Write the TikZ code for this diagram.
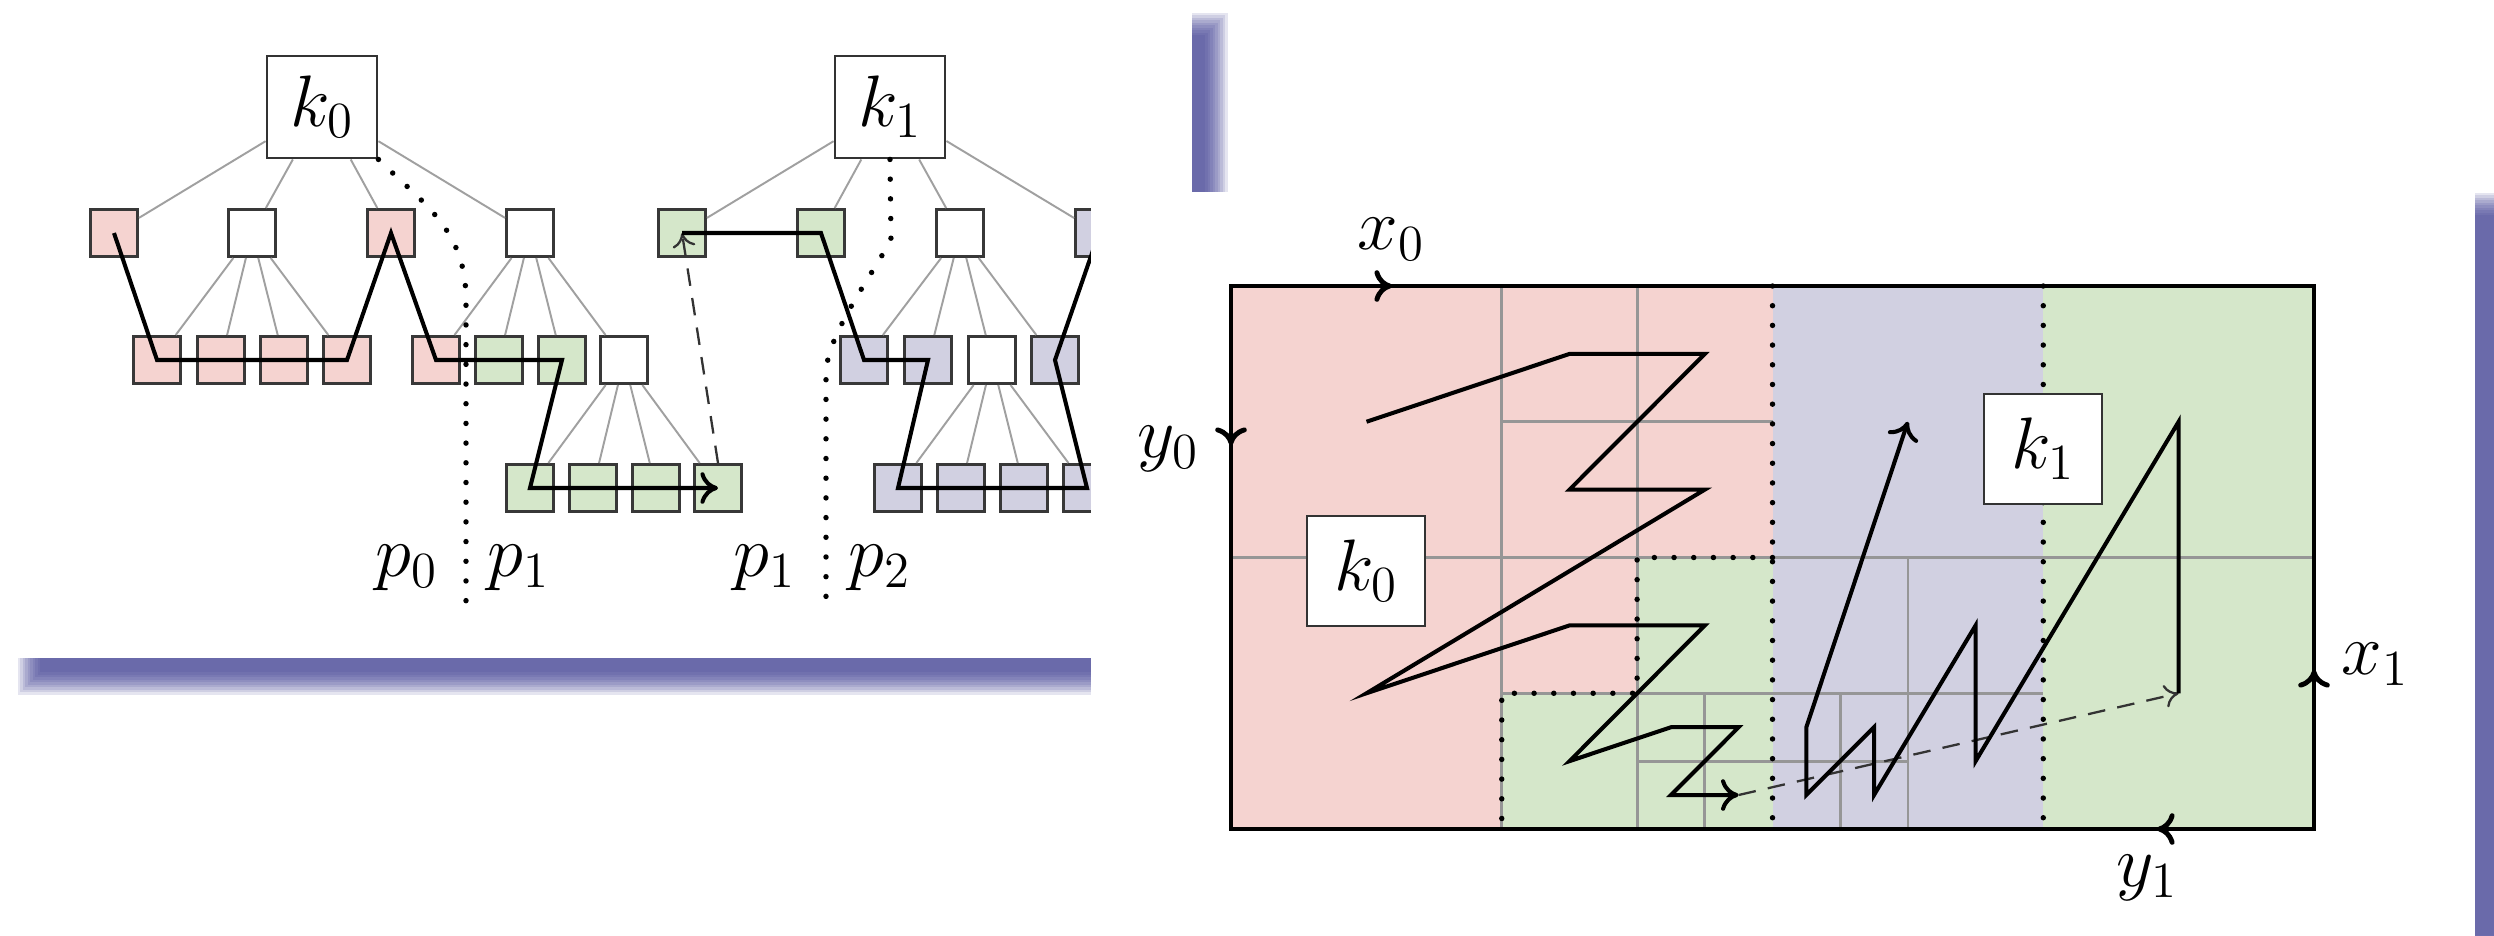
\documentclass[tikz,border=0pt]{standalone}
\usetikzlibrary{arrows.meta}
\definecolor{pinkc}{RGB}{245,211,208}
\definecolor{greenc}{RGB}{213,231,202}
\definecolor{purplec}{RGB}{209,208,225}
\definecolor{shadowc}{RGB}{60,60,145}
\definecolor{edgec}{RGB}{160,160,160}
\definecolor{gridc}{RGB}{150,150,150}
\begin{document}
\begin{tikzpicture}[x=0.01cm,y=-0.01cm,
  every node/.style={font=\fontsize{20.74}{24}\selectfont},
  tbox/.style={draw=black!78, line width=0.85pt, minimum size=0.47cm, inner sep=0pt},
  pk/.style={tbox, fill=pinkc},
  gr/.style={tbox, fill=greenc},
  pu/.style={tbox, fill=purplec},
  wh/.style={tbox, fill=white},
  keybox/.style={draw=black!80, line width=0.8pt, fill=white, minimum width=1.10cm, minimum height=1.02cm, inner sep=0pt},
  keyboxr/.style={keybox, minimum width=1.18cm, minimum height=1.10cm},
  treeedge/.style={draw=edgec, line width=0.55pt},
  walk/.style={draw=black, line width=1.15pt},
  tip/.style={-{Computer Modern Rightarrow[length=5pt,width=9pt]}},
  dtip/.style={-{Computer Modern Rightarrow[length=4pt,width=6.5pt]}},
  dots/.style={draw=black, line width=1.55pt, dash pattern=on 0pt off 5.6pt, line cap=round},
  dashline/.style={draw=black!80, line width=0.65pt, dash pattern=on 5pt off 3.5pt},
  gridline/.style={draw=gridc, line width=0.8pt},
  border/.style={draw=black, line width=1.4pt},
  lbl/.style={inner sep=0pt}
]
\useasboundingbox (0,0) rectangle (2494,935);
\fill[white] (0,0) rectangle (2494,935);

% ---------- left panel ----------
\foreach \i in {0,...,9}
  \fill[shadowc, opacity=0.13] (40-2.5*\i,35-2.5*\i) rectangle (1205+2.5*\i,672+2.5*\i);
\fill[white] (12,9) rectangle (1192,658);

\node[keybox] (k0) at (322,107) {$k_0$};
\node[keybox] (k1) at (890,107) {$k_1$};

\node[pk] (a1) at (114,233) {};
\node[wh] (a2) at (252,233) {};
\node[pk] (a3) at (391,233) {};
\node[wh] (a4) at (530,233) {};
\node[gr] (b1) at (682,233) {};
\node[gr] (b2) at (821,233) {};
\node[wh] (b3) at (960,233) {};
\node[pu] (b4) at (1099,233) {};

\node[pk] (a21) at (157,360) {};
\node[pk] (a22) at (221,360) {};
\node[pk] (a23) at (284,360) {};
\node[pk] (a24) at (347,360) {};
\node[pk] (a41) at (436,360) {};
\node[gr] (a42) at (499,360) {};
\node[gr] (a43) at (562,360) {};
\node[wh] (a44) at (624,360) {};
\node[pu] (b31) at (864,360) {};
\node[pu] (b32) at (928,360) {};
\node[wh] (b33) at (992,360) {};
\node[pu] (b34) at (1055,360) {};

\node[gr] (a441) at (530,488) {};
\node[gr] (a442) at (593,488) {};
\node[gr] (a443) at (656,488) {};
\node[gr] (a444) at (718,488) {};
\node[pu] (b331) at (898,488) {};
\node[pu] (b332) at (961,488) {};
\node[pu] (b333) at (1024,488) {};
\node[pu] (b334) at (1087,488) {};

\foreach \c in {a1,a2,a3,a4} \draw[treeedge] (k0) -- (\c);
\foreach \c in {b1,b2,b3,b4} \draw[treeedge] (k1) -- (\c);
\foreach \c in {a21,a22,a23,a24} \draw[treeedge] (a2) -- (\c);
\foreach \c in {a41,a42,a43,a44} \draw[treeedge] (a4) -- (\c);
\foreach \c in {b31,b32,b33,b34} \draw[treeedge] (b3) -- (\c);
\foreach \c in {a441,a442,a443,a444} \draw[treeedge] (a44) -- (\c);
\foreach \c in {b331,b332,b333,b334} \draw[treeedge] (b33) -- (\c);

\draw[dots] (k0.south east) .. controls (425,205) and (466,230) .. (466,300) -- (466,603);
\draw[dots] (k1.south) -- (891,238) .. controls (882,262) and (828,330) .. (826,372) -- (826,603);

\draw[walk, tip] (a1.center) -- (a21.center) -- (a24.center) -- (a3.center)
  -- (a41.center) -- (a43.center) -- (a441.center) -- (a444.center);
\draw[dashline, dtip] (a444.north) -- (b1.center);
\draw[walk] (b1.center) -- (b2.center) -- (b31.center) -- (b32.center)
  -- (b331.center) -- (b334.center) -- (b34.center) -- (b4.center);

\node[lbl] (p0) at (407,568) {$p_0$};
\node[lbl] (p1a) at (519,568) {$p_1$};
\node[lbl] (p1b) at (765,568) {$p_1$};
\node[lbl] (p2) at (880,568) {$p_2$};

% ---------- right panel ----------
\foreach \i in {0,...,9}
  \fill[shadowc, opacity=0.13] (1115-2.5*\i,215-2.5*\i) rectangle (2500+2.5*\i,1000);
\fill[white] (1091,192) rectangle (2475,960);

\coordinate (tl) at (1231,286);
\coordinate (br) at (2314,829);

\fill[pinkc] (1231,286) rectangle (1501.75,829);
\fill[pinkc] (1501.75,286) rectangle (1772.5,557.5);
\fill[pinkc] (1501.75,557.5) rectangle (1637.1,693.25);
\fill[greenc] (1637.1,557.5) rectangle (1772.5,829);
\fill[greenc] (1501.75,693.25) rectangle (1637.1,829);
\fill[purplec] (1772.5,286) rectangle (2043.25,829);
\fill[greenc] (2043.25,286) rectangle (2314,829);

\draw[gridline] (1231,557.5) -- (2314,557.5);
\draw[gridline] (1501.75,286) -- (1501.75,829);
\draw[gridline] (1637.1,286) -- (1637.1,829);
\draw[gridline] (1501.75,421.75) -- (1772.5,421.75);
\draw[gridline] (1501.75,693.25) -- (2043.25,693.25);
\draw[gridline] (1637.1,761.1) -- (1907.9,761.1);
\draw[gridline] (1704.8,693.25) -- (1704.8,829);
\draw[gridline] (1840.2,693.25) -- (1840.2,829);
\draw[gridline] (1907.9,557.5) -- (1907.9,829);

\draw[dots] (1772.5,286) -- (1772.5,829);
\draw[dots] (2043.25,286) -- (2043.25,829);
\draw[dots] (1772.5,557.5) -- (1637.1,557.5) -- (1637.1,693.25) -- (1501.75,693.25) -- (1501.75,829);

\draw[border] (tl) rectangle (br);
\draw[border, tip] (tl) -- (1392,286);
\draw[border, tip] (tl) -- (1231,445);
\draw[border, tip] (br) -- (2314,670);
\draw[border, tip] (br) -- (2157,829);

\node[lbl] (x0) at (1391,239) {$x_0$};
\node[lbl] (y0) at (1168,449) {$y_0$};
\node[lbl] (x1) at (2375,664) {$x_1$};
\node[lbl] (y1) at (2147,878) {$y_1$};

\node[keyboxr] (rk0) at (1366,571) {$k_0$};
\node[keyboxr] (rk1) at (2043,449) {$k_1$};

\coordinate (w1end) at (1738.6,795);
\coordinate (w2start) at (2178.6,693.25);
\draw[walk, tip] (1366.5,421.75) -- (1569.5,353.9) -- (1704.8,353.9) -- (1569.5,489.6)
  -- (1704.8,489.6) -- (1366.5,693.25) -- (1569.5,625.4) -- (1704.8,625.4)
  -- (1569.5,761.1) -- (1671,727.2) -- (1738.6,727.2) -- (1671,795) -- (w1end);
\draw[dashline, dtip] (w1end) -- (w2start);
\draw[walk, tip] (w2start) -- (2178.6,421.75) -- (1975.6,761.1) -- (1975.6,625.4)
  -- (1874,795) -- (1874,727.2) -- (1806.3,795) -- (1806.3,727.2) -- (1907.9,421.75);
\end{tikzpicture}
\end{document}
